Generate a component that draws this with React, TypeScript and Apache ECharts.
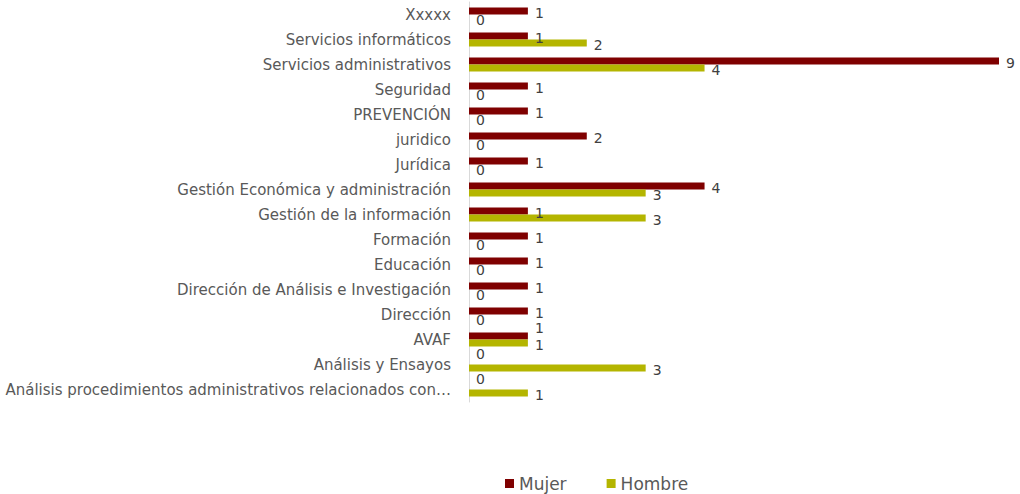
import React, { useEffect, useRef } from "react";
import * as echarts from "echarts";

const categories = [
  "Xxxxx",
  "Servicios informáticos",
  "Servicios administrativos",
  "Seguridad",
  "PREVENCIÓN",
  "juridico",
  "Jurídica",
  "Gestión Económica y administración",
  "Gestión de la información",
  "Formación",
  "Educación",
  "Dirección de Análisis e Investigación",
  "Dirección",
  "AVAF",
  "Análisis y Ensayos",
  "Análisis procedimientos administrativos relacionados con…",
];
const mujer = [1, 1, 9, 1, 1, 2, 1, 4, 1, 1, 1, 1, 1, 1, 0, 0];
const hombre = [0, 2, 4, 0, 0, 0, 0, 3, 3, 0, 0, 0, 0, 1, 3, 1];
const seriesNames = ["Mujer", "Hombre"];

const FONT = "'DejaVu Sans', sans-serif";

export default function App() {
  const ref = useRef<HTMLDivElement>(null);
  useEffect(() => {
    const chart = echarts.init(ref.current!, null, { renderer: "svg" });
    const label = {
      show: true,
      position: "right" as const,
      distance: 7,
      color: "#404040",
      fontFamily: FONT,
      fontSize: 14,
      offset: [0, 2],
    };
    // Mujer labels that the reference lifts above their bar (to avoid overlaps)
    const mujerData = mujer.map((v, i) => {
      if (categories[i] === "AVAF") return { value: v, label: { offset: [0, -8] } };
      if (v === 0) return { value: v, label: { offset: [0, -7] } };
      return v;
    });
    chart.setOption({
      animation: false,
      grid: { left: 469, top: 2, width: 530, height: 400, containLabel: false },
      legend: {
        data: seriesNames,
        left: 500,
        top: 470,
        icon: "rect",
        itemWidth: 9,
        itemHeight: 9,
        itemGap: 40,
        textStyle: {
          color: "#595959",
          fontFamily: FONT,
          fontSize: 17,
        },
      },
      xAxis: {
        type: "value",
        min: 0,
        max: 9,
        show: true,
        axisLine: { show: false },
        axisTick: { show: false },
        axisLabel: { show: false },
        splitLine: { show: false },
      },
      yAxis: {
        type: "category",
        data: categories,
        inverse: true,
        axisLine: { show: true, lineStyle: { color: "#d9d9d9", width: 1 } },
        axisTick: { show: false },
        axisLabel: {
          color: "#595959",
          fontFamily: FONT,
          fontSize: 15,
          margin: 18,
        },
      },
      series: [
        {
          name: seriesNames[0],
          type: "bar",
          data: mujerData,
          barWidth: 7,
          barGap: "0%",
          itemStyle: { color: "#7f0000" },
          label,
        },
        {
          name: seriesNames[1],
          type: "bar",
          data: hombre,
          barWidth: 7,
          barGap: "0%",
          itemStyle: { color: "#b4b500" },
          label,
        },
      ],
    });
    return () => chart.dispose();
  }, []);
  return (
    <div
      ref={ref}
      style={{ position: "absolute", left: 0, top: 0, width: 1020, height: 494 }}
    />
  );
}
